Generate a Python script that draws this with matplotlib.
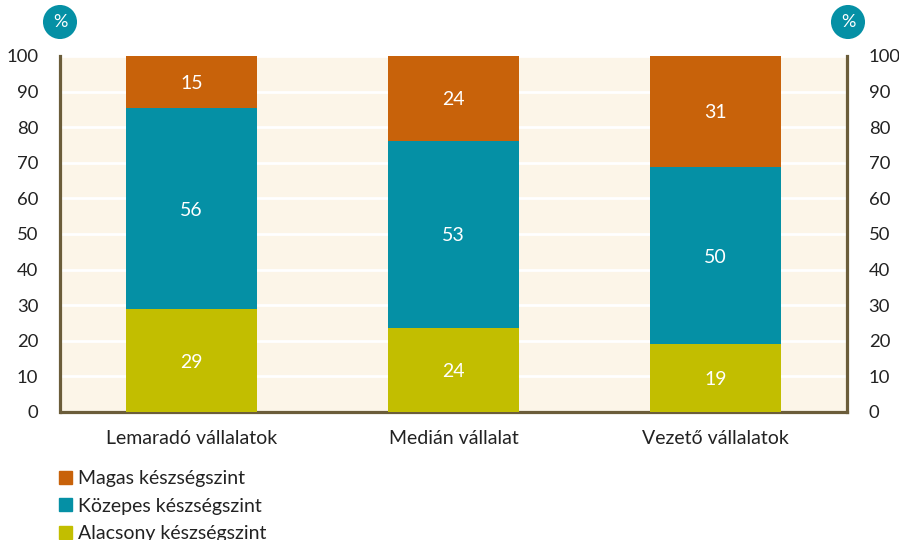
import numpy as np
import matplotlib.pyplot as plt
from matplotlib.patches import Patch

plt.rcParams['font.family'] = ['Lato', 'DejaVu Sans']

categories = ['Lemaradó vállalatok', 'Medián vállalat', 'Vezető vállalatok']
alacsony = [28.9, 23.6, 19.0]
kozepes = [56.4, 52.6, 49.9]
magas = [14.7, 24.0, 31.1]

series_names = ['Alacsony készségszint', 'Közepes készségszint', 'Magas készségszint']
colors = ['#C2BE00', '#0590A5', '#C8620A']
spine_col = '#6B5D3A'
text_col = '#222222'

fig = plt.figure(figsize=(8.99, 5.4), dpi=100)
ax = fig.add_axes([60.5 / 899, 1 - 412 / 540, 786 / 899, 356 / 540])
ax.set_facecolor('#FCF5E8')

x = np.arange(len(categories))
bottom = np.zeros(len(categories))
for vals, col in zip([alacsony, kozepes, magas], colors):
    bars = ax.bar(x, vals, 0.5, bottom=bottom, color=col, zorder=3)
    for b, v, b0 in zip(bars, vals, bottom):
        ax.text(b.get_x() + b.get_width() / 2, b0 + v / 2, str(int(v + 0.5)),
                ha='center', va='center_baseline', color='white', fontsize=14, zorder=4)
    bottom += np.array(vals)

ax.set_xlim(-0.5, 2.5)
ax.set_ylim(0, 100)
ax.set_yticks(range(0, 101, 10))
ax.yaxis.grid(True, color='white', lw=2, zorder=1)
ax.set_axisbelow(True)
ax.set_xticks(x)
ax.set_xticklabels(categories, fontsize=14, color=text_col)
ax.tick_params(axis='x', length=0, pad=13)
ax.tick_params(axis='y', length=0, labelsize=13.3, labelcolor=text_col, pad=16,
               labelleft=True, labelright=True, left=False, right=False)

for s in ['left', 'right', 'bottom']:
    ax.spines[s].set_color(spine_col)
    ax.spines[s].set_linewidth(2.3)
ax.spines['top'].set_visible(False)

# percent badges
for fx in [60 / 899, 848 / 899]:
    fig.text(fx, 1 - 22 / 540, '%', ha='center', va='center', color='white', fontsize=13,
             bbox=dict(boxstyle='circle,pad=0.5', fc='#0590A5', ec='none'))

handles = [Patch(color=c, label=n) for c, n in zip(colors[::-1], series_names[::-1])]
fig.legend(handles=handles, loc='upper left', bbox_to_anchor=(55 / 899, 1 - 466 / 540),
           frameon=False, fontsize=14, handlelength=0.65, handleheight=0.65,
           handletextpad=0.35, labelspacing=0.55, labelcolor=text_col,
           borderaxespad=0, borderpad=0.2)

fig.savefig('out.png', dpi=100)
